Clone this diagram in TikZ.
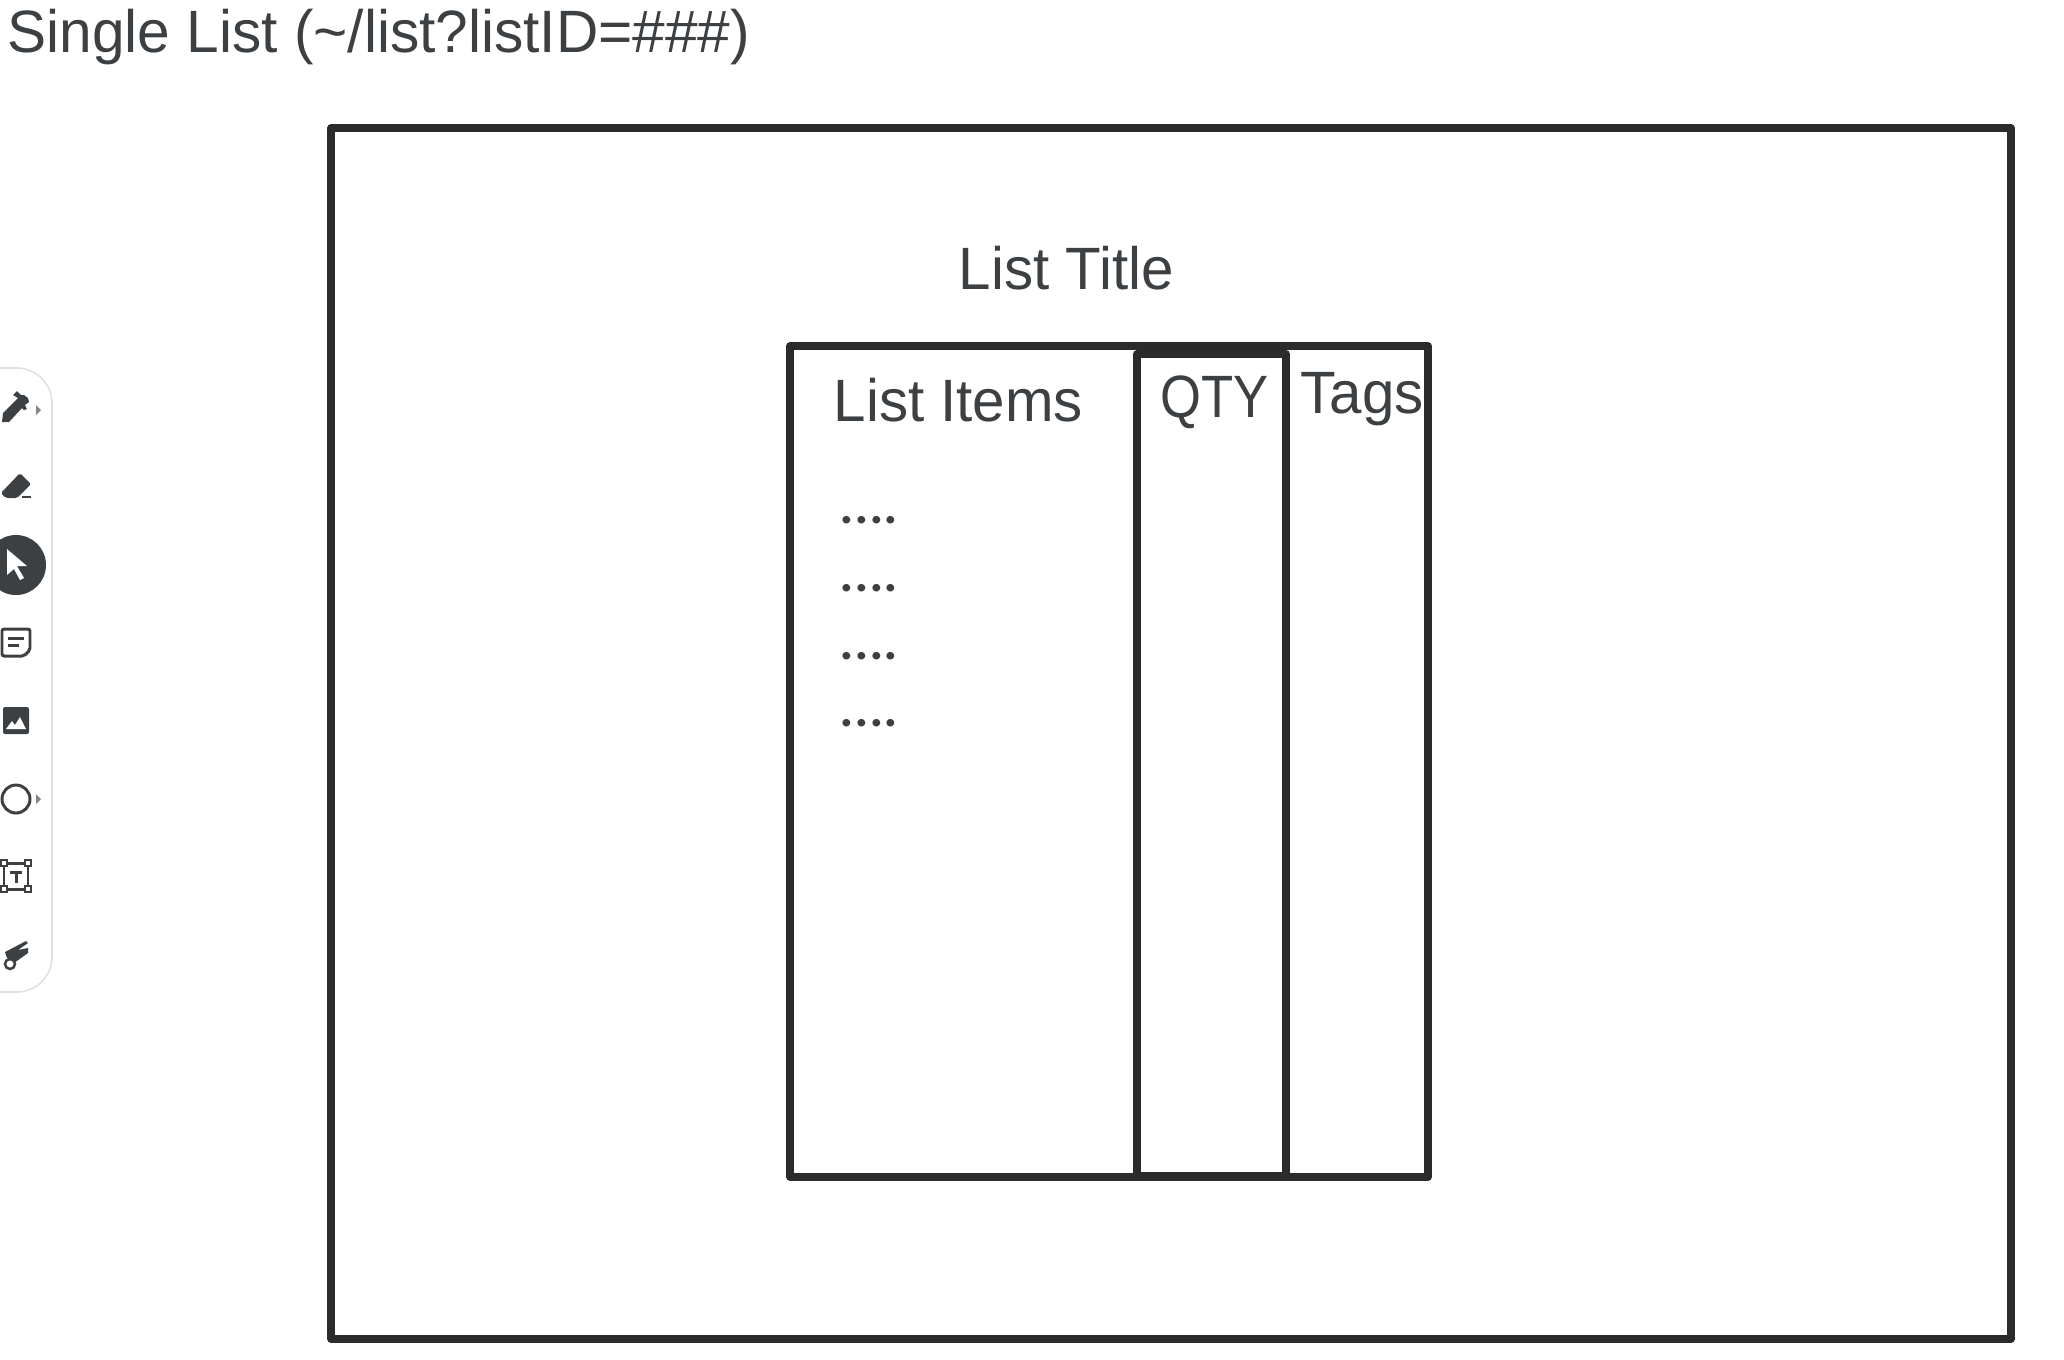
\documentclass[tikz,border=0pt]{standalone}
\usepackage{fontspec}
\setmainfont[FakeStretch=0.975]{Liberation Sans}
\newfontfamily\narrowfont[FakeStretch=0.88]{Liberation Sans}
\newfontfamily\widefont[FakeStretch=0.98]{Liberation Sans}
\newfontfamily\dotsfont[FakeStretch=1.04]{Lato}
\definecolor{inkdark}{HTML}{2B2B2B}
\definecolor{textgrey}{HTML}{3C4043}
\definecolor{panelline}{HTML}{E0E0E3}
\definecolor{arrowgrey}{HTML}{80868B}
\tikzset{
	box/.style = {draw = inkdark, line width = 2.1pt, line join = round},
	label/.style = {anchor = base west, inner sep = 0, text = textgrey, font = \fontsize{17}{20}\selectfont},
	dots/.style = {anchor = base west, inner sep = 0, text = textgrey, font = \dotsfont\fontsize{17}{20}\selectfont},
	icon/.style = {fill = textgrey, draw = none},
	iconline/.style = {draw = textgrey, line width = 0.85pt}
}

\begin{document}
\begin{tikzpicture}[x = 0.01cm, y = -0.01cm]
		\useasboundingbox (0, 0) rectangle (2064, 1359);
		% page heading
		\node[label, font = \widefont\fontsize{17}{20}\selectfont] (heading) at (7, 52) {Single List (\textasciitilde/list?listID=\#\#\#)};
		% frames
		\draw[box] (331, 128) rectangle (2011, 1339);
		\draw[box] (790, 346) rectangle (1428, 1177);
		\draw[box] (1137, 354) rectangle (1286, 1176);
		\draw[inkdark, line width = 2.2pt] (1137, 350) -- (1286, 350);
		% texts
		\node[label] (title) at (958, 289) {List Title};
		\node[label] (items) at (833, 421) {List Items};
		\node[label, font = \narrowfont\fontsize{17}{20}\selectfont] (qty) at (1160, 417) {QTY};
		\node[label] (tags) at (1300, 413) {Tags};
		\node[dots] (row1) at (839, 523) {....};
		\node[dots] (row2) at (839, 591) {....};
		\node[dots] (row3) at (839, 659) {....};
		\node[dots] (row4) at (839, 726) {....};
		% toolbar
		\draw[panelline, line width = 0.45pt, rounded corners = 10pt] (-40, 368) rectangle (52, 992);
		% pen
		\fill[icon] (2, 422) -- (3, 413) -- (18, 398) -- (13, 395) -- (17, 391) -- (21, 395) -- (24, 395) -- (28, 398) -- (29, 402) -- (25, 405) -- (27, 409) -- (24, 410) -- (22, 408) -- (9, 422) -- cycle;
		\fill[arrowgrey] (36, 405) -- (41, 410) -- (36, 415) -- cycle;
		% eraser
		\fill[icon, rounded corners = 0.5pt] (1, 493) -- (20, 473) -- (31, 484) -- (17, 498) -- (6, 498) -- cycle;
		\fill[icon] (22, 496) rectangle (31, 498);
		% pointer
		\fill[icon] (16, 565) circle (30);
		\fill[white] (7, 549) -- (27, 566) -- (17, 566) -- (24, 578) -- (20, 580) -- (14, 569) -- (7, 575) -- cycle;
		% note
		\draw[iconline, rounded corners = 0.6pt] (2, 629) -- (30, 629) -- (30, 650) -- (24, 656) -- (2, 656) -- cycle;
		\fill[icon] (8, 637) rectangle (24, 640);
		\fill[icon] (8, 644) rectangle (19, 647);
		% image
		\fill[icon, rounded corners = 0.6pt] (3, 707) rectangle (29, 734);
		\fill[white] (6, 729) -- (12, 721) -- (15, 725) -- (20, 717) -- (26, 729) -- cycle;
		% shape
		\draw[iconline] (16, 799) circle (14);
		\fill[arrowgrey] (36, 794) -- (41, 799) -- (36, 804) -- cycle;
		% text box
		\draw[iconline] (4, 863) rectangle (28, 889);
		\foreach \hx in {4, 28} {
			\foreach \hy in {863, 889} {
				\filldraw[fill = white, draw = textgrey, line width = 0.8pt] (\hx - 3, \hy - 3) rectangle (\hx + 3, \hy + 3);
			}
		}
		\fill[icon] (10, 871) rectangle (22, 874);
		\fill[icon] (14.5, 871) rectangle (17.5, 883);
		% laser
		\fill[icon] (5, 952) -- (26, 941) -- (28, 943) -- (18, 950) -- (28, 948) -- (28, 953) -- (14, 963) -- (7, 958) -- cycle;
		\filldraw[fill = white, draw = textgrey, line width = 0.7pt] (10, 964) circle (5);
		\end{tikzpicture}
\end{document}
